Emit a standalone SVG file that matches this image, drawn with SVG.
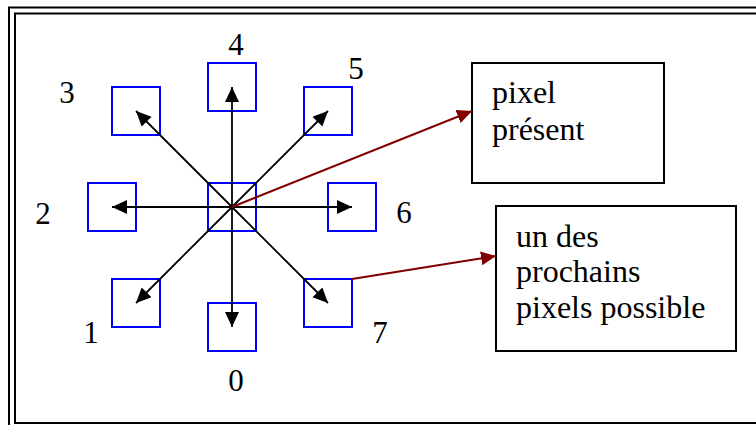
<svg xmlns="http://www.w3.org/2000/svg" width="756" height="425" viewBox="0 0 756 425">
<style>
.frame{fill:none;stroke:#000;stroke-width:2}
.px{fill:none;stroke:#0000ff;stroke-width:2}
.box{fill:#fff;stroke:#000;stroke-width:2}
.dir{stroke:#000;stroke-width:1.8;fill:none;marker-end:url(#ab)}
.lnk{stroke:#800000;stroke-width:2;fill:none;marker-end:url(#ar)}
.t{font-family:'Liberation Serif','Times New Roman','DejaVu Serif',serif;font-size:31px;fill:#000}
.b{font-size:32px}
.d{text-anchor:middle}
</style>
<defs>
<marker id="ab" markerUnits="userSpaceOnUse" markerWidth="16" markerHeight="15" refX="15" refY="7" orient="auto"><path d="M0,0 L15,7 L0,14 z" fill="#000"/></marker>
<marker id="ar" markerUnits="userSpaceOnUse" markerWidth="16" markerHeight="15" refX="15" refY="7" orient="auto"><path d="M0,0 L15,7 L0,14 z" fill="#800000"/></marker>
</defs>
<rect width="756" height="425" fill="#fff"/>
<path class="frame" d="M9,425 V7.5 H760"/>
<path class="frame" d="M760,13.5 H15 V423 H760"/>
<g id="pixels">
<g id="p-center"><rect class="px" x="208" y="183" width="48" height="48"/></g>
<g id="p0"><rect class="px" x="208" y="303" width="48" height="48"/><text class="t d" x="236" y="391">0</text></g>
<g id="p1"><rect class="px" x="112" y="279" width="48" height="48"/><text class="t d" x="91" y="343">1</text></g>
<g id="p2"><rect class="px" x="88" y="183" width="48" height="48"/><text class="t d" x="43" y="224">2</text></g>
<g id="p3"><rect class="px" x="112" y="87" width="48" height="48"/><text class="t d" x="67" y="103">3</text></g>
<g id="p4"><rect class="px" x="208" y="63" width="48" height="48"/><text class="t d" x="236" y="55">4</text></g>
<g id="p5"><rect class="px" x="304" y="87" width="48" height="48"/><text class="t d" x="356" y="79">5</text></g>
<g id="p6"><rect class="px" x="328" y="183" width="48" height="48"/><text class="t d" x="404" y="223">6</text></g>
<g id="p7"><rect class="px" x="304" y="279" width="48" height="48"/><text class="t d" x="380" y="343">7</text></g>
</g>
<g id="box-present"><rect class="box" x="472" y="63" width="192" height="120"/><text class="t b" x="492" y="103">pixel</text><text class="t b" x="492" y="140">présent</text></g>
<g id="box-next"><rect class="box" x="496" y="206" width="240" height="145"/><text class="t b" x="516" y="247">un des</text><text class="t b" x="516" y="282">prochains</text><text class="t b" x="516" y="318">pixels possible</text></g>
<g id="connectors">
<line class="dir" x1="232" y1="207" x2="232" y2="327"/>
<line class="dir" x1="232" y1="207" x2="136" y2="303"/>
<line class="dir" x1="232" y1="207" x2="112" y2="207"/>
<line class="dir" x1="232" y1="207" x2="136" y2="111"/>
<line class="dir" x1="232" y1="207" x2="232" y2="87"/>
<line class="dir" x1="232" y1="207" x2="328" y2="111"/>
<line class="dir" x1="232" y1="207" x2="352" y2="207"/>
<line class="dir" x1="232" y1="207" x2="328" y2="303"/>
<line class="lnk" x1="232" y1="207" x2="472" y2="111"/>
<line class="lnk" x1="352" y1="279" x2="496" y2="256"/>
</g>
</svg>
